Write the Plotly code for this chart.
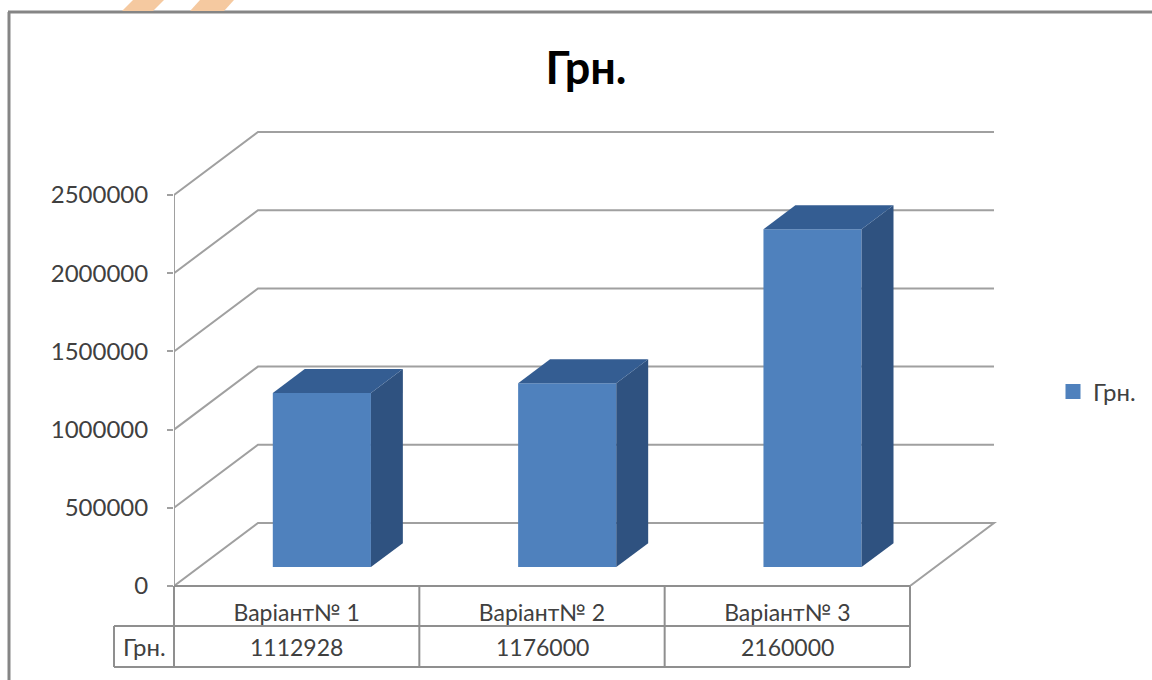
import plotly.graph_objects as go

# Chart data
categories = ["Варіант№ 1", "Варіант№ 2", "Варіант№ 3"]
values = [1112928, 1176000, 2160000]
series_name = "Грн."
y_ticks = [0, 500000, 1000000, 1500000, 2000000, 2500000]

# Canvas and plot area, in pixels
WIDTH, HEIGHT = 1152, 680
LEFT, RIGHT, TOP, BOTTOM = 174, 1000, 125, 586
CATEGORY_PX = 245.33
VALUE_PX = 391 / 2500000

# Oblique projection: depth 0 is the front plane, depth 1 the back wall
DEPTH_X = 84 / CATEGORY_PX
DEPTH_Y = 63 / VALUE_PX
BAR_WIDTH = 0.4
BAR_NEAR, BAR_FAR = 0.30, 0.68

FONT = "Lato, Open Sans, sans-serif"
TEXT = "#404040"
GRID = "#a0a0a0"
TABLE = "#8f8f8f"
FRONT, SIDE, LID = "#4f81bd", "#2f5280", "#345d92"


def project(x, v, depth):
    return x + depth * DEPTH_X, v + depth * DEPTH_Y


def px(x):
    return (x - LEFT) / (RIGHT - LEFT)


def py(y):
    return (BOTTOM - y) / (BOTTOM - TOP)


n = len(categories)
centers = [i + 0.5 for i in range(n)]
fig = go.Figure()

# Front faces of the columns
fig.add_bar(
    x=[project(c, 0, BAR_NEAR)[0] for c in centers],
    y=values,
    base=[project(0, 0, BAR_NEAR)[1]] * n,
    width=BAR_WIDTH,
    marker=dict(color=FRONT, line=dict(width=0)),
    name=series_name,
    showlegend=False,
)

# Side and top faces of the columns
for c, v in zip(centers, values):
    x0, x1 = c - BAR_WIDTH / 2, c + BAR_WIDTH / 2
    corners = [
        project(x1, 0, BAR_NEAR), project(x1, 0, BAR_FAR),
        project(x1, v, BAR_FAR), project(x1, v, BAR_NEAR),
    ]
    fig.add_scatter(
        x=[p[0] for p in corners], y=[p[1] for p in corners], mode="lines",
        fill="toself", fillcolor=SIDE, line=dict(width=0), showlegend=False,
        hoverinfo="skip",
    )
    corners = [
        project(x0, v, BAR_NEAR), project(x1, v, BAR_NEAR),
        project(x1, v, BAR_FAR), project(x0, v, BAR_FAR),
    ]
    fig.add_scatter(
        x=[p[0] for p in corners], y=[p[1] for p in corners], mode="lines",
        fill="toself", fillcolor=LID, line=dict(width=0), showlegend=False,
        hoverinfo="skip",
    )

# Legend entry with a larger square key
fig.add_scatter(
    x=[None], y=[None], mode="markers", name=series_name,
    marker=dict(symbol="square", size=15, color=FRONT),
)

shapes = []

# Gridlines running across the side wall and the back wall
for t in y_ticks:
    x_wall, y_wall = project(0, t, 1)
    x_end, y_end = project(n, t, 1)
    path = f"M 0 {t} L {x_wall} {y_wall} L {x_end} {y_end}"
    if t == 0:
        path += f" L {n} 0"
    shapes.append(dict(type="path", path=path, xref="x", yref="y", layer="below",
                       line=dict(color=GRID, width=2)))

# Value axis line, from zero to the top tick only
shapes.append(dict(type="line", xref="x", yref="y", x0=0, x1=0, y0=y_ticks[0], y1=y_ticks[-1],
                   line=dict(color=GRID, width=2)))


def paper_line(x0, y0, x1, y1, color=TABLE, width=2):
    shapes.append(dict(type="line", xref="paper", yref="paper",
                       x0=px(x0), y0=py(y0), x1=px(x1), y1=py(y1),
                       line=dict(color=color, width=width)))


# Data table under the axis
ROW_0, ROW_1, ROW_2 = BOTTOM, 626, 667
HEADER_LEFT = 114
column_edges = [LEFT + i * CATEGORY_PX for i in range(n + 1)]
paper_line(LEFT, ROW_0, column_edges[-1], ROW_0)
paper_line(HEADER_LEFT, ROW_1, column_edges[-1], ROW_1)
paper_line(HEADER_LEFT, ROW_2, column_edges[-1], ROW_2)
paper_line(HEADER_LEFT, ROW_1, HEADER_LEFT, ROW_2)
for edge in column_edges:
    paper_line(edge, ROW_0, edge, ROW_2)

annotations = [
    dict(text=series_name, xref="paper", yref="paper", x=px((HEADER_LEFT + LEFT) / 2),
         y=py((ROW_1 + ROW_2) / 2), xanchor="center", yanchor="middle", showarrow=False,
         font=dict(family=FONT, size=24, color=TEXT))
]
for c, v in zip(centers, values):
    annotations.append(dict(
        text=str(v), xref="x", yref="paper", x=c, y=py((ROW_1 + ROW_2) / 2),
        xanchor="center", yanchor="middle", showarrow=False,
        font=dict(family=FONT, size=23, color=TEXT),
    ))

# Chart frame and the strip of page decoration above it
paper_line(8, 12, WIDTH, 12, color="#858585", width=3)
paper_line(9, 12, 9, HEIGHT, color="#858585", width=3)
for a, b, c, d in [(122, 133, 164, 153), (190, 200, 234, 224)]:
    shapes.append(dict(
        type="path", xref="paper", yref="paper", line=dict(width=0), fillcolor="#f5c9a0",
        path=f"M {px(a)} {py(11)} L {px(b)} {py(0)} L {px(c)} {py(0)} L {px(d)} {py(11)} Z",
    ))

fig.update_layout(
    width=WIDTH, height=HEIGHT, autosize=False,
    margin=dict(l=LEFT, r=WIDTH - RIGHT, t=TOP, b=HEIGHT - BOTTOM, pad=0),
    paper_bgcolor="white", plot_bgcolor="white",
    font=dict(family=FONT, color=TEXT),
    title=dict(text=f"<b>{series_name}</b>", x=586 / WIDTH, xanchor="center",
               y=1 - 68 / HEIGHT, yanchor="middle", font=dict(family=FONT, size=45, color="black")),
    xaxis=dict(
        range=[0, (RIGHT - LEFT) / CATEGORY_PX], tickmode="array", tickvals=centers,
        ticktext=categories, showgrid=False, zeroline=False, ticks="", ticklen=0,
        tickfont=dict(family=FONT, size=23, color=TEXT), ticklabelstandoff=11,
    ),
    yaxis=dict(
        range=[0, (BOTTOM - TOP) / VALUE_PX], tickmode="array", tickvals=y_ticks,
        ticktext=[str(t) for t in y_ticks], showgrid=False, zeroline=False,
        showline=False, ticks="outside", ticklen=6,
        tickwidth=2, tickcolor=GRID, tickfont=dict(family=FONT, size=24, color=TEXT),
        ticklabelstandoff=14,
    ),
    legend=dict(xref="container", yref="container", x=1053 / WIDTH, y=1 - 392 / HEIGHT,
                xanchor="left", yanchor="middle", bgcolor="rgba(0,0,0,0)",
                font=dict(family=FONT, size=24, color=TEXT), itemwidth=30),
    showlegend=True,
    shapes=shapes, annotations=annotations,
)

fig.write_html("out.html", config={"displayModeBar": False})
